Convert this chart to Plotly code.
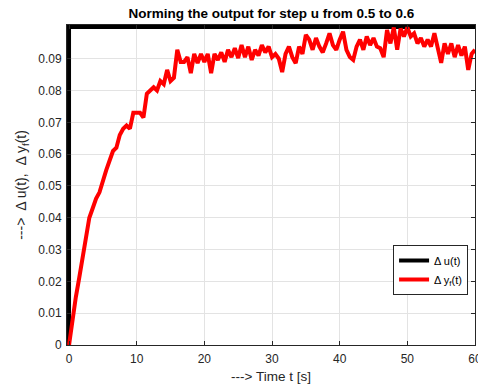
import plotly.graph_objects as go

# ---- data ----
t_u = [0, 0, 60]
du = [0.0, 0.1, 0.1]

t_y = [i * 0.5 for i in range(121)]
dy = [
    0.000, 0.008, 0.015, 0.021, 0.028, 0.034, 0.040, 0.043, 0.046, 0.048,
    0.052, 0.055, 0.058, 0.061, 0.062, 0.066, 0.068, 0.069, 0.068, 0.073,
    0.073, 0.073, 0.0715, 0.079, 0.080, 0.081, 0.080, 0.083, 0.082, 0.0865,
    0.083, 0.084, 0.0928, 0.089, 0.089, 0.0905, 0.0855, 0.0915, 0.0886, 0.0915,
    0.089, 0.0915, 0.0855, 0.0915, 0.0896, 0.092, 0.089, 0.0928, 0.0905, 0.0933,
    0.0902, 0.0943, 0.0905, 0.0938, 0.0896, 0.0928, 0.091, 0.0943, 0.092, 0.0938,
    0.0905, 0.0915, 0.090, 0.0858, 0.0915, 0.0938, 0.0905, 0.0886, 0.0938, 0.0915,
    0.0975, 0.096, 0.0928, 0.0965, 0.0938, 0.092, 0.0948, 0.098, 0.0943, 0.0928,
    0.096, 0.0985, 0.0928, 0.0905, 0.0896, 0.0938, 0.096, 0.0928, 0.097, 0.0943,
    0.0965, 0.0938, 0.0933, 0.0905, 0.099, 0.0948, 0.0998, 0.0928, 0.0995, 0.097,
    0.0998, 0.097, 0.098, 0.0948, 0.0965, 0.0938, 0.096, 0.0938, 0.098, 0.0938,
    0.0887, 0.0948, 0.0915, 0.0948, 0.0905, 0.0943, 0.091, 0.0938, 0.0865, 0.0915,
    0.0928,
]

x_ticks = [0, 10, 20, 30, 40, 50, 60]
y_ticks = [0, 0.01, 0.02, 0.03, 0.04, 0.05, 0.06, 0.07, 0.08, 0.09]
y_tick_labels = ["0", "0.01", "0.02", "0.03", "0.04", "0.05", "0.06", "0.07", "0.08", "0.09"]

title = "<b>Norming the output for step u from 0.5 to 0.6</b>"
x_title = "---> Time t [s]"
y_title = "--->&nbsp; Δ u(t),&nbsp; Δ y<sub>f</sub>(t)"
names = ["Δ u(t)", "Δ y<sub>f</sub>(t)"]

FONT = "Liberation Sans, Arial, sans-serif"
AX = "#262626"

fig = go.Figure()
fig.add_trace(go.Scatter(x=t_u, y=du, mode="lines", name=names[0],
                         line=dict(color="black", width=4)))
fig.add_trace(go.Scatter(x=t_y, y=dy, mode="lines", name=names[1],
                         line=dict(color="#ff0000", width=4)))

axis_common = dict(
    showline=True, linecolor=AX, linewidth=1, mirror="allticks",
    ticks="inside", ticklen=4, tickcolor=AX, tickwidth=1,
    showgrid=True, gridcolor="#e3e3e3", gridwidth=1, zeroline=False,
    tickfont=dict(family=FONT, size=12, color=AX),
    automargin=False,
)

fig.update_layout(
    width=478, height=385,
    margin=dict(l=67, r=3, t=25, b=40),
    paper_bgcolor="white", plot_bgcolor="white",
    font=dict(family=FONT, color=AX),
    title=dict(text=title, x=0.568, xanchor="center", y=0.966, yanchor="middle",
               font=dict(family=FONT, size=13.5, color="black")),
    xaxis=dict(range=[-0.3, 60], tickvals=x_ticks, ticklabelstandoff=3,
               ticklabeloverflow="allow",
               title=dict(text=x_title, standoff=6,
                          font=dict(family=FONT, size=13.5, color=AX)),
               **axis_common),
    yaxis=dict(range=[0, 0.1006], tickvals=y_ticks, ticktext=y_tick_labels,
               ticklabelstandoff=2,
               title=dict(text=y_title, standoff=8,
                          font=dict(family=FONT, size=14, color=AX)),
               **axis_common),
    legend=dict(x=0.983, y=0.3125, xanchor="right", yanchor="top",
                bgcolor="white", bordercolor=AX, borderwidth=1,
                font=dict(family=FONT, size=11, color="black"),
                tracegroupgap=0, itemwidth=30),
    showlegend=True,
)

fig.write_html("out.html")
